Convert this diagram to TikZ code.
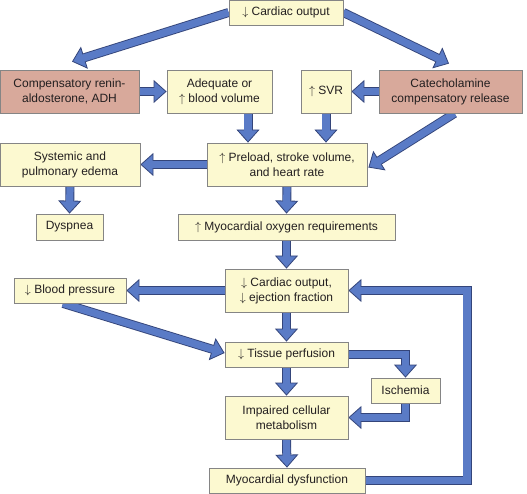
\documentclass[tikz,border=0pt]{standalone}
\usepackage{fontspec}
\setmainfont{Liberation Sans}
\usetikzlibrary{arrows.meta,calc,backgrounds}
\definecolor{boxfill}{HTML}{FCF9D0}
\definecolor{pinkfill}{HTML}{D8A99B}
\definecolor{boxline}{HTML}{858585}
\definecolor{arrowblue}{HTML}{5A7BC6}
\definecolor{arrowline}{HTML}{34457A}
\definecolor{txt}{HTML}{231F20}
\begin{document}
\begin{tikzpicture}[x=1pt,y=-1pt,
  box/.style={draw=boxline, line width=0.8pt, fill=boxfill, inner sep=0pt, align=center,
    text=txt, font=\fontsize{12}{15}\selectfont},
  pbox/.style={box, fill=pinkfill},
  fatA/.style={draw=arrowline, line width=9pt, line join=miter,
    -{Triangle[length=13pt,width=23pt,fill=arrowblue,line width=0.8pt]}},
  fatB/.style={draw=arrowblue, line width=7.2pt, line join=miter, shorten >=11pt}]
\useasboundingbox (0,0) rectangle (527,494);
\node[box, minimum width=114, minimum height=25] (co1) at (286,12.5) {$\downarrow$ Cardiac output};
\node[pbox, minimum width=139, minimum height=43] (renin) at (69.5,91.5) {Compensatory renin-\\aldosterone, ADH};
\node[box, minimum width=105, minimum height=43] (adeq) at (219.5,91.5) {Adequate or\\$\uparrow$ blood volume};
\node[box, minimum width=50, minimum height=43] (svr) at (326,91.5) {$\uparrow$ SVR};
\node[pbox, minimum width=143, minimum height=43] (cat) at (450.5,91.5) {Catecholamine\\compensatory release};
\node[box, minimum width=160, minimum height=43] (pre) at (287,164.5) {$\uparrow$ Preload, stroke volume,\\and heart rate};
\node[box, minimum width=140, minimum height=43] (edema) at (70,164.5) {Systemic and\\pulmonary edema};
\node[box, minimum width=67, minimum height=26] (dysp) at (69.5,227) {Dyspnea};
\node[box, minimum width=217, minimum height=26] (oxy) at (286.5,227) {$\uparrow$ Myocardial oxygen requirements};
\node[box, minimum width=123, minimum height=43] (co2) at (286.5,290.5) {$\downarrow$ Cardiac output,\\$\downarrow$ ejection fraction};
\node[box, minimum width=112, minimum height=25] (bp) at (70,290.5) {$\downarrow$ Blood pressure};
\node[box, minimum width=123, minimum height=25] (tis) at (286.5,354.5) {$\downarrow$ Tissue perfusion};
\node[box, minimum width=69, minimum height=25] (isch) at (405.5,390.5) {Ischemia};
\node[box, minimum width=123, minimum height=43] (imp) at (286.5,417.5) {Impaired cellular\\metabolism};
\node[box, minimum width=156, minimum height=25] (dys) at (287,480.5) {Myocardial dysfunction};
\coordinate (lp) at (467,0);
\begin{pgfonlayer}{background}
\foreach \p in {
  {(co1.west) -- ($(renin.north)+(2.5,-8)$)},
  {(co1.east) -- ($(cat.north)+(-1.5,-6)$)},
  {(renin.east) -- (adeq.west)},
  {(cat.west) -- (svr.east)},
  {($(adeq.south)+(28.5,0)$) -- ($(adeq.south |- pre.north)+(28.5,0)$)},
  {(svr.south) -- (svr.south |- pre.north)},
  {($(cat.south)+(4,0)$) -- ($(pre.east)+(1,3)$)},
  {(pre.west) -- (edema.east)},
  {(edema.south) -- (dysp.north)},
  {(pre.south) -- (oxy.north)},
  {(oxy.south) -- (co2.north)},
  {(co2.west) -- (bp.east)},
  {($(bp.south)+(-7,0)$) -- ($(tis.west)+(0,-1.5)$)},
  {(co2.south) -- (tis.north)},
  {(tis.east) -| (isch.north)},
  {(tis.south) -- (imp.north)},
  {(isch.south) |- (imp.east)},
  {(imp.south) -- (dys.north)},
  {(dys.east) -- (dys.east -| lp) -- (co2.east -| lp) -- (co2.east)}}
{
  \draw[fatA] \p;
  \draw[fatB] \p;
}
\end{pgfonlayer}
\end{tikzpicture}
\end{document}
